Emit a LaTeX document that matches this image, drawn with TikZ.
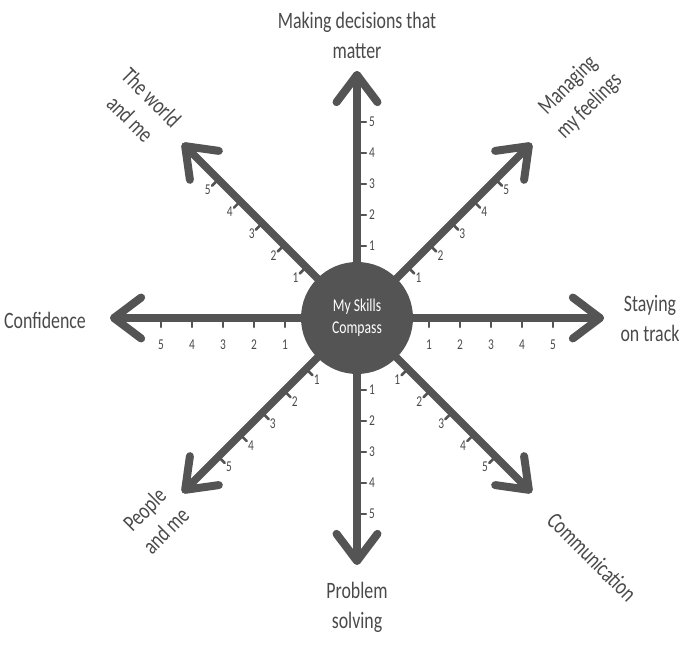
\documentclass[tikz,border=0pt]{standalone}
\usepackage{fontspec}
\setmainfont{Carlito}[FakeStretch=0.76]
\usetikzlibrary{calc}
\definecolor{ink}{HTML}{545454}
\definecolor{txt}{HTML}{4A4A4A}
\begin{document}
\begin{tikzpicture}[x=1pt,y=1pt,
  shaft/.style={draw=ink, line width=7.5pt, line cap=round},
  head/.style={draw=ink, line width=8pt, line cap=round, line join=round},
  tickmark/.style={draw=ink, line width=2.6pt, line cap=round},
  num/.style={text=txt, font=\fontsize{15}{15}\selectfont, inner sep=0pt},
  axislabel/.style={text=txt, font=\fontsize{23.5}{30}\selectfont, align=center, inner sep=0pt},
  hubstyle/.style={circle, fill=ink, minimum size=112pt, inner sep=0pt, text=white,
    font=\fontsize{18}{22}\selectfont, align=center}]
\useasboundingbox (0,0) rectangle (689,648);
\node[hubstyle] (hub) at (357,330) {My Skills\\Compass};
\foreach \nm/\ang/\sd/\dd in {E/0/270/27, NE/45/315/15, N/90/0/15, NW/135/225/15,
                              W/180/270/27, SW/225/315/15, S/270/0/15, SE/315/225/15}
{
  \coordinate (tip\nm) at ($(hub.center)+(\ang:243)$);
  \draw[shaft] (hub) -- (tip\nm);
  \draw[head] ($(tip\nm)+(\ang+143:34)$) -- (tip\nm) -- ($(tip\nm)+(\ang+217:34)$);
  \foreach \k/\r in {1/72,2/103,3/134,4/165,5/196}{
    \coordinate (t\nm\k) at ($(hub.center)+(\ang:\r)$);
    \draw[tickmark] (t\nm\k) -- ++(\sd:9);
    \node[num] (n\nm\k) at ($(t\nm\k)+(\sd:\dd)$) {\k};
  }
}
\node[axislabel] (lN) at (357,613) {Making decisions that\\matter};
\node[axislabel] (lE) at (650,329) {Staying\\on track};
\node[axislabel] (lW) at (45,328) {Confidence};
\node[axislabel] (lS) at (357,41) {Problem\\solving};
\node[axislabel, rotate=-45] (lNW) at (141,540) {The world\\and me};
\node[axislabel, rotate=45] (lNE) at (579,552) {Managing\\my feelings};
\node[axislabel, rotate=45] (lSW) at (155,128) {People\\and me};
\node[axislabel, rotate=-45] (lSE) at (592,91) {Communication};
\end{tikzpicture}
\end{document}
